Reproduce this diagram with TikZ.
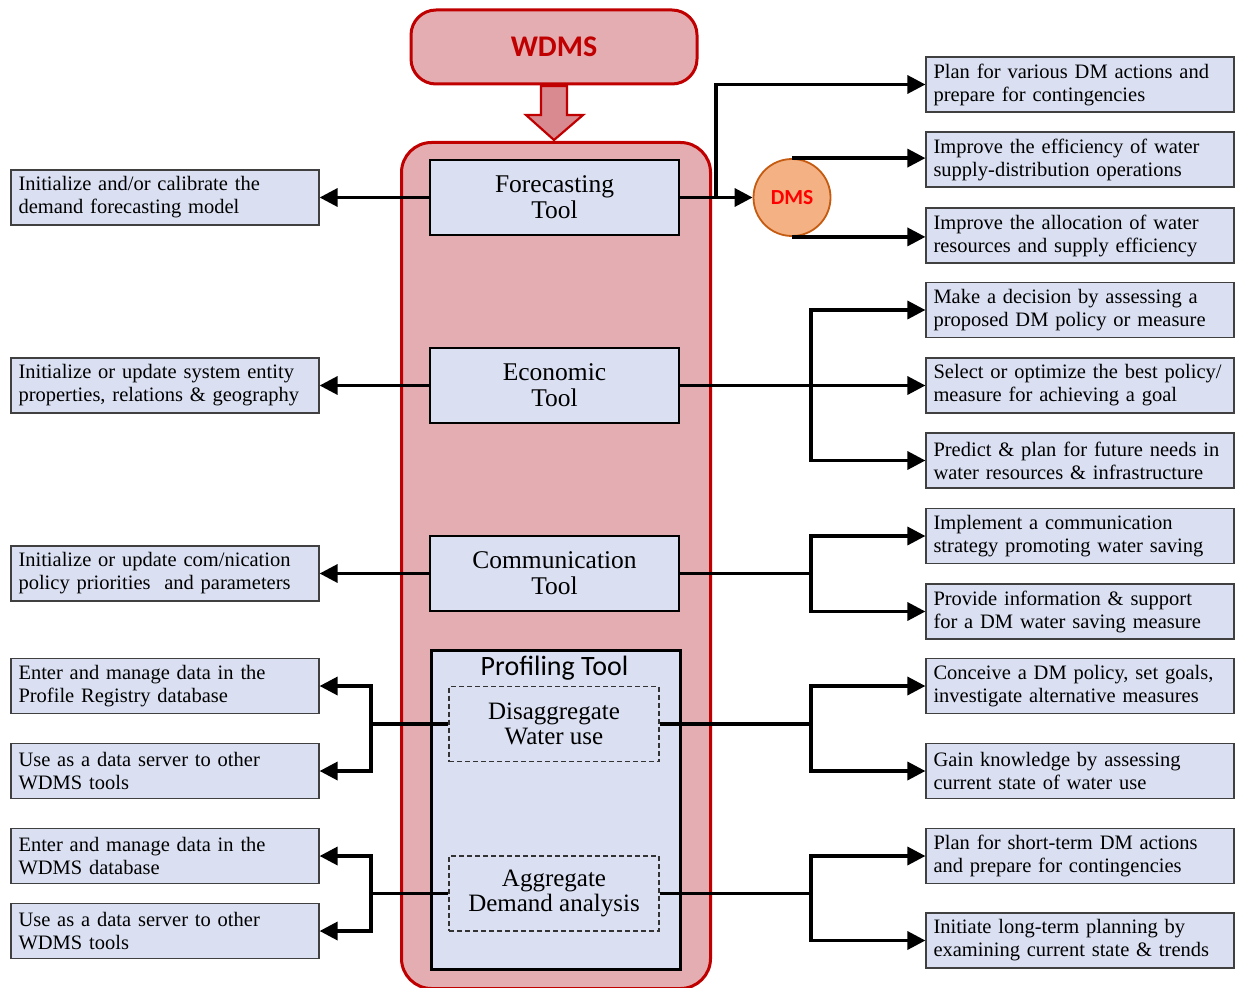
\documentclass[tikz,border=0pt]{standalone}
\usepackage{fontspec}
\setmainfont{Liberation Serif}
\newfontfamily\calib{Carlito}
\usetikzlibrary{arrows.meta,positioning,calc}
\definecolor{wdmsred}{HTML}{C00000}
\definecolor{panelpink}{HTML}{E4ADB1}
\definecolor{arrowpink}{HTML}{D98990}
\definecolor{boxblue}{HTML}{DAE0F2}
\definecolor{dmsfill}{HTML}{F4B183}
\definecolor{dmsdraw}{HTML}{C55A11}
\definecolor{dmstext}{HTML}{FF0000}
\tikzset{
  info/.style={draw=black!75, line width=1.2pt, fill=boxblue, minimum height=55pt,
    text width=293pt, inner xsep=7.5pt, inner ysep=0pt, align=left,
    font=\fontsize{20.5}{23}\selectfont},
  toolbox/.style={draw=black, line width=2.8pt, fill=boxblue, minimum width=249pt,
    minimum height=75pt, align=center, font=\fontsize{25.5}{26}\selectfont},
  subbox/.style={draw=black!80, dash pattern=on 5pt off 3pt, line width=1.2pt, fill=boxblue,
    minimum width=210pt, minimum height=75pt, align=center,
    font=\fontsize{25}{25}\selectfont},
  conn/.style={line width=3.4pt, -{Triangle[length=18pt,width=18pt]}},
  link/.style={line width=3.4pt},
}
\begin{document}
\begin{tikzpicture}[x=1pt,y=-1pt]
\useasboundingbox (0,0) rectangle (1238,987);

% outer WDMS panel and header
\node[draw=wdmsred, line width=3pt, fill=panelpink, rounded corners=30pt,
  minimum width=309pt, minimum height=846pt, anchor=north west] (panel) at (400,141) {};
\node[draw=wdmsred, line width=3pt, fill=panelpink, rounded corners=25pt,
  minimum width=286pt, minimum height=74pt, text=wdmsred,
  font=\calib\bfseries\fontsize{30}{32}\selectfont] (wdms) at (554,47) {WDMS};
\filldraw[draw=wdmsred, fill=arrowpink, line width=2.2pt]
  (541,86) -- (567,86) -- (567,115) -- (583,115) -- (554,140) -- (526,115) -- (541,115) -- cycle;

% tools
\node[toolbox] (fc) at (554.5,197.5) {Forecasting\\Tool};
\node[toolbox] (ec) at (554.5,385.5) {Economic\\Tool};
\node[toolbox] (co) at (554.5,573.5) {Communication\\Tool};
\node[draw=black, line width=2.8pt, fill=boxblue, minimum width=249pt,
  minimum height=319pt, anchor=north west] (pf) at (430,649) {};
\node[font=\calib\fontsize{28}{30}\selectfont] (pft) at (554.5,668) {Profiling Tool};
\node[subbox] (dis) at (554,724) {Disaggregate\\Water use};
\node[subbox] (agg) at (554,893.5) {Aggregate\\Demand analysis};

% DMS circle
\node[circle, draw=dmsdraw, line width=1.8pt, fill=dmsfill, minimum size=77pt,
  inner sep=0pt, text=dmstext, font=\calib\bfseries\fontsize{21.5}{23}\selectfont]
  (dms) at (792,197.5) {DMS};

% left boxes
\node[info] (l1) at (165,197.5) {Initialize and/or calibrate the\\demand forecasting model};
\node[info] (l2) at (165,385.5) {Initialize or update system entity\\properties, relations \& geography};
\node[info] (l3) at (165,573.5) {Initialize or update com/nication\\policy priorities\ \ and parameters};
\node[info] (l4) at (165,686) {Enter and manage data in the\\Profile Registry database};
\node[info] (l5) at (165,771) {Use as a data server to other\\WDMS tools};
\node[info] (l6) at (165,856) {Enter and manage data in the\\WDMS database};
\node[info] (l7) at (165,931) {Use as a data server to other\\WDMS tools};

% right boxes
\node[info] (r1) at (1080,84.5) {Plan for various DM actions and\\prepare for contingencies};
\node[info] (r2) at (1080,159.5) {Improve the efficiency of water\\supply-distribution operations};
\node[info] (r3) at (1080,235.5) {Improve the allocation of water\\resources and supply efficiency};
\node[info] (r4) at (1080,310) {Make a decision by assessing a\\proposed DM policy or measure};
\node[info] (r5) at (1080,385.5) {Select or optimize the best policy/\\measure for achieving a goal};
\node[info] (r6) at (1080,460.5) {Predict \& plan for future needs in\\water resources \& infrastructure};
\node[info] (r7) at (1080,536) {Implement a communication\\strategy promoting water saving};
\node[info] (r8) at (1080,611.5) {Provide information \& support\\for a DM water saving measure};
\node[info] (r9) at (1080,686) {Conceive a DM policy, set goals,\\investigate alternative measures};
\node[info] (r10) at (1080,771) {Gain knowledge by assessing\\current state of water use};
\node[info] (r11) at (1080,856) {Plan for short-term DM actions\\and prepare for contingencies};
\node[info] (r12) at (1080,940.5) {Initiate long-term planning by\\examining current state \& trends};

% junction points
\coordinate (fcj) at (716,197.5);
\coordinate (ecj) at (811,385.5);
\coordinate (coj) at (811,573.5);
\coordinate (disr) at (811,724);
\coordinate (aggr) at (811,893.5);
\coordinate (disl) at (371,724);
\coordinate (aggl) at (371,893.5);

% forecasting links
\draw[conn] (fc.west) -- (l1.east);
\draw[conn] (fc.east) -- (dms.west);
\draw[conn] (fcj) |- (r1.west);
\draw[conn] (dms.north) -- (r2.west |- dms.north);
\draw[conn] (dms.south) -- (r3.west |- dms.south);

% economic links
\draw[conn] (ec.west) -- (l2.east);
\draw[conn] (ec.east) -- (r5.west);
\draw[conn] (ecj) |- (r4.west);
\draw[conn] (ecj) |- (r6.west);

% communication links
\draw[conn] (co.west) -- (l3.east);
\draw[link] (co.east) -- (coj);
\draw[conn] (coj) |- (r7.west);
\draw[conn] (coj) |- (r8.west);

% profiling links
\draw[link] (dis.east) -- (disr);
\draw[conn] (disr) |- (r9.west);
\draw[conn] (disr) |- (r10.west);
\draw[link] (agg.east) -- (aggr);
\draw[conn] (aggr) |- (r11.west);
\draw[conn] (aggr) |- (r12.west);
\draw[link] (dis.west) -- (disl);
\draw[conn] (disl) |- (l4.east);
\draw[conn] (disl) |- (l5.east);
\draw[link] (agg.west) -- (aggl);
\draw[conn] (aggl) |- (l6.east);
\draw[conn] (aggl) |- (l7.east);
\end{tikzpicture}
\end{document}
